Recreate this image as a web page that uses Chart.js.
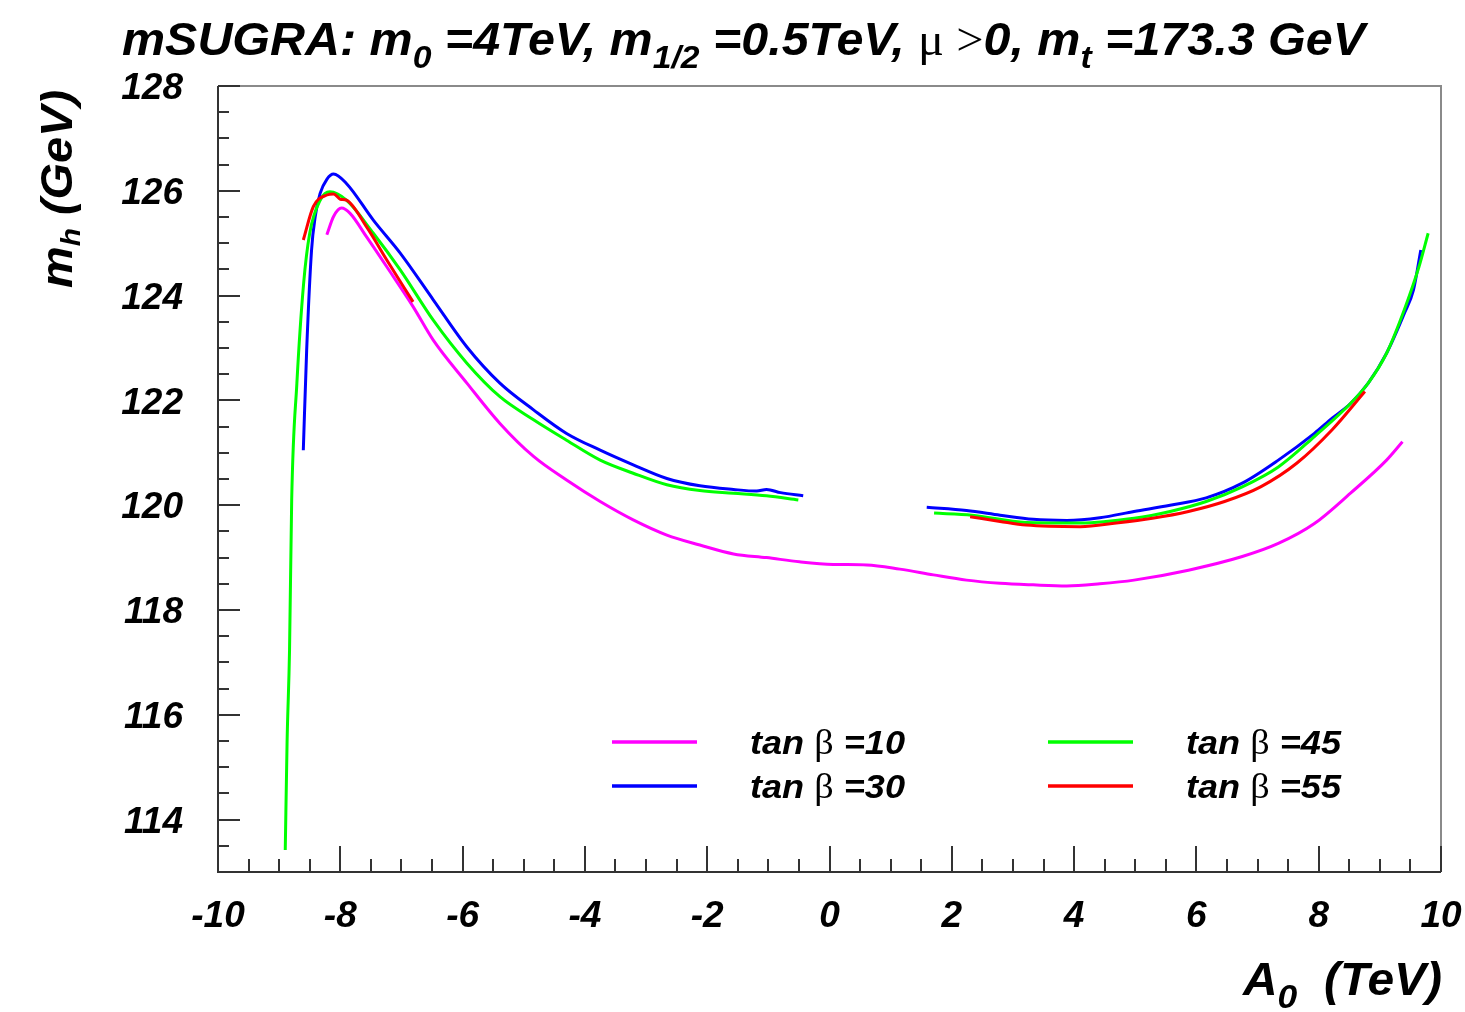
<!DOCTYPE html>
<html>
<head>
<meta charset="utf-8">
<script src="https://cdn.jsdelivr.net/npm/chart.js@4.4.1/dist/chart.umd.min.js"></script>
<style>
  html, body { margin: 0; padding: 0; background: #fff; }
  canvas { display: block; }
</style>
</head>
<body>
<canvas id="mh" width="1465" height="1012"></canvas>
<script>
// light higgs mass vs A0 for a few tan(beta) values
const tanBeta = [10, 30, 45, 55];
const lineColors = ['#ff00ff', '#0000ff', '#00ff00', '#ff0000'];

// A0 in TeV, m_h in GeV (null = no valid spectrum)
const a0_tb10 = [-8.22, -8.11, -7.98, -7.84, -7.57, -7.24, -6.81, -6.48, -5.93, -5.39, -4.84, -4.30, -3.75, -3.21, -2.66, -2.12, -1.57, -1.03, -0.49, 0.06, 0.61, 1.15, 1.70, 2.24, 2.79, 3.33, 3.88, 4.42, 4.98, 5.87, 6.75, 7.34, 7.93, 8.52, 9.11, 9.37];
const mh_tb10 = [125.16, 125.51, 125.67, 125.57, 125.12, 124.55, 123.79, 123.15, 122.33, 121.56, 120.93, 120.48, 120.07, 119.72, 119.43, 119.24, 119.07, 119.00, 118.92, 118.87, 118.86, 118.78, 118.67, 118.57, 118.51, 118.48, 118.46, 118.50, 118.57, 118.76, 119.02, 119.27, 119.65, 120.23, 120.86, 121.21];

const a0_tb30 = [-8.605, -8.55, -8.47, -8.41, -8.33, -8.22, -8.11, -7.90, -7.46, -7.02, -6.48, -5.93, -5.39, -4.84, -4.30, -3.75, -3.21, -2.66, -2.12, -1.57, -1.19, -1.03, -0.80, -0.43, 0.6, 1.59, 2.24, 2.79, 3.33, 3.88, 4.42, 4.98, 5.57, 6.16, 6.75, 7.34, 7.93, 8.22, 8.52, 8.81, 9.11, 9.40, 9.55, 9.67];
const mh_tb30 = [121.05, 122.96, 124.87, 125.51, 125.95, 126.22, 126.32, 126.14, 125.44, 124.81, 123.92, 123.02, 122.33, 121.82, 121.37, 121.05, 120.77, 120.51, 120.37, 120.30, 120.27, 120.30, 120.24, 120.18, null, 119.96, 119.90, 119.81, 119.73, 119.71, 119.76, 119.88, 120.00, 120.14, 120.42, 120.86, 121.37, 121.66, 121.94, 122.33, 122.90, 123.66, 124.11, 124.87];

const a0_tb45 = [-8.90, -8.87, -8.83, -8.795, -8.71, -8.60, -8.50, -8.33, -8.17, -7.90, -7.46, -7.02, -6.48, -5.93, -5.39, -4.84, -4.30, -3.75, -3.21, -2.66, -2.12, -1.57, -1.03, -0.51, 0.6, 1.71, 2.33, 3.215, 4.10, 4.98, 5.57, 6.16, 6.75, 7.34, 7.93, 8.52, 8.81, 9.11, 9.40, 9.64, 9.79];
const mh_tb45 = [113.42, 115.5, 117.24, 120.10, 122.33, 124.23, 125.19, 125.82, 125.98, 125.82, 125.19, 124.49, 123.53, 122.71, 122.07, 121.63, 121.24, 120.86, 120.61, 120.39, 120.28, 120.23, 120.18, 120.10, null, 119.85, 119.81, 119.67, 119.66, 119.75, 119.88, 120.07, 120.35, 120.73, 121.31, 121.94, 122.33, 122.90, 123.73, 124.55, 125.19];

const a0_tb55 = [-8.605, -8.44, -8.22, -8.11, -8.0, -7.90, -7.57, -7.24, -6.81, -2.0, 2.30, 2.79, 3.215, 4.10, 4.69, 5.28, 5.87, 6.46, 7.05, 7.64, 8.22, 8.755];
const mh_tb55 = [125.06, 125.70, 125.92, 125.94, 125.84, 125.82, 125.31, 124.68, 123.88, null, 119.78, 119.69, 119.62, 119.59, 119.66, 119.75, 119.88, 120.07, 120.35, 120.80, 121.44, 122.17];

const xTicks = [-10, -8, -6, -4, -2, 0, 2, 4, 6, 8, 10];
const yTicks = [114, 116, 118, 120, 122, 124, 126, 128];

const allA0 = [a0_tb10, a0_tb30, a0_tb45, a0_tb55];
const allMh = [mh_tb10, mh_tb30, mh_tb45, mh_tb55];

const BI = (s) => `italic bold ${s}px "Liberation Sans"`;
const SYM = (s) => `${s}px "Liberation Serif"`;

// draw text pieces one after another, squeezed/stretched to a given width
function richText(c, parts, x, y, width) {
  let w = 0;
  parts.forEach((p) => { c.font = p[1]; w += c.measureText(p[0]).width; });
  c.save();
  c.translate(x, y);
  if (width) c.scale(width / w, 1);
  let cx = 0;
  parts.forEach((p) => {
    c.font = p[1];
    c.fillText(p[0], cx, p[2] || 0);
    cx += c.measureText(p[0]).width;
  });
  c.restore();
}

const rootStyle = {
  id: 'rootStyle',
  afterDraw(chart) {
    const c = chart.ctx;
    const { left, right, top, bottom } = chart.chartArea;
    const xs = chart.scales.x;
    const ys = chart.scales.y;
    c.save();
    c.fillStyle = '#000';
    c.textBaseline = 'alphabetic';
    c.textAlign = 'left';

    // frame
    c.lineWidth = 2;
    c.strokeStyle = '#8a8a8a';
    c.beginPath();
    c.moveTo(left, top);
    c.lineTo(right, top);
    c.lineTo(right, bottom);
    c.stroke();
    c.strokeStyle = '#333';
    c.beginPath();
    c.moveTo(left, top);
    c.lineTo(left, bottom);
    c.lineTo(right, bottom);
    c.stroke();

    // tick marks pointing into the pad
    c.lineWidth = 2;
    c.strokeStyle = '#333';
    c.beginPath();
    for (let v = -10; v <= 10.001; v += 0.5) {
      const px = Math.round(xs.getPixelForValue(v));
      const len = Math.abs(v % 2) < 1e-6 ? 26 : 13;
      c.moveTo(px, bottom);
      c.lineTo(px, bottom - len);
    }
    for (let v = 113; v <= 128.001; v += 0.5) {
      const py = Math.round(ys.getPixelForValue(v));
      const len = Math.abs(v % 2) < 1e-6 ? 22 : 11;
      c.moveTo(left, py);
      c.lineTo(left + len, py);
    }
    c.stroke();

    // legend, two columns
    const colX = [612, 1048];
    const rowY = [742, 786];
    tanBeta.forEach((tb, i) => {
      const lx = colX[Math.floor(i / 2)];
      const ly = rowY[i % 2];
      c.strokeStyle = lineColors[i];
      c.lineWidth = 3.5;
      c.beginPath();
      c.moveTo(lx, ly);
      c.lineTo(lx + 85, ly);
      c.stroke();
      richText(c, [['tan ', BI(34)], ['β', SYM(36)], [' =' + tb, BI(34)]], lx + 138, ly + 12, 155);
    });

    // title
    richText(c, [
      ['mSUGRA: m', BI(46)], ['0', BI(32), 13],
      [' =4TeV, m', BI(46)], ['1/2', BI(32), 13],
      [' =0.5TeV, ', BI(46)], ['μ', SYM(46)], [' >', SYM(46)],
      ['0, m', BI(46)], ['t', BI(32), 13],
      [' =173.3 GeV', BI(46)],
    ], 122, 55, 1243);

    // x axis title, right aligned to the frame
    richText(c, [['A', BI(46)], ['0', BI(34), 13], ['  (TeV)', BI(46)]], 1442 - 199, 995, 199);

    // y axis title, rotated, ending at the top of the frame
    c.save();
    c.translate(72, 288);
    c.rotate(-Math.PI / 2);
    richText(c, [['m', BI(44)], ['h', BI(28), 8], [' (GeV)', BI(44)]], 0, 0, 198);
    c.restore();

    c.restore();
  },
};

const tickFont = { family: 'Liberation Sans', size: 37, weight: 'bold', style: 'italic' };

new Chart(document.getElementById('mh'), {
  type: 'line',
  data: {
    datasets: tanBeta.map((tb, i) => ({
      label: `tan β =${tb}`,
      data: allA0[i].map((a, k) => ({ x: a, y: allMh[i][k] })),
      borderColor: lineColors[i],
      backgroundColor: lineColors[i],
      borderWidth: 3,
      pointRadius: 0,
      cubicInterpolationMode: 'monotone',
      spanGaps: false,
      order: 4 - i,
    })),
  },
  options: {
    responsive: false,
    animation: false,
    layout: { padding: { top: 86, right: 24, left: 0, bottom: 0 } },
    plugins: {
      legend: { display: false },
      tooltip: { enabled: false },
    },
    scales: {
      x: {
        type: 'linear',
        min: -10,
        max: 10,
        afterBuildTicks: (s) => { s.ticks = xTicks.map((v) => ({ value: v })); },
        afterFit: (s) => { s.height = 140; s.paddingLeft = 0; s.paddingRight = 0; },
        grid: { display: false },
        border: { display: false },
        ticks: { font: tickFont, color: '#000', padding: 15, maxRotation: 0, autoSkip: false },
      },
      y: {
        type: 'linear',
        min: 113,
        max: 128,
        afterBuildTicks: (s) => { s.ticks = yTicks.map((v) => ({ value: v })); },
        afterFit: (s) => { s.width = 218; s.paddingTop = 0; s.paddingBottom = 0; },
        grid: { display: false },
        border: { display: false },
        ticks: { font: tickFont, color: '#000', padding: 27, labelOffset: 3, autoSkip: false },
      },
    },
  },
  plugins: [rootStyle],
});
</script>
</body>
</html>
